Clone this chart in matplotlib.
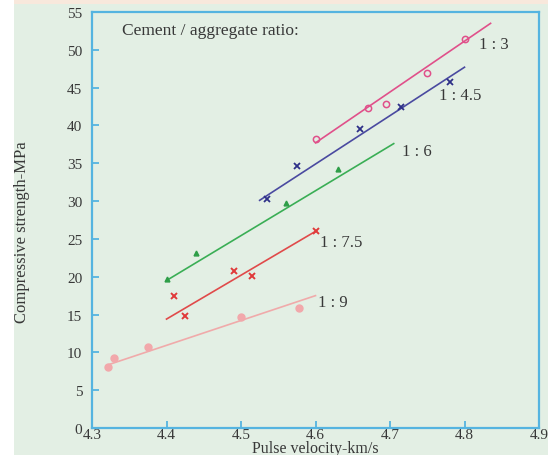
import matplotlib
matplotlib.use("Agg")
import matplotlib.pyplot as plt
from matplotlib.patches import Rectangle

# Data
r13_x = [4.60, 4.67, 4.695, 4.75, 4.80]
r13_y = [38.2, 42.3, 42.8, 47.0, 51.4]
r13_fit_x = [4.60, 4.835]
r13_fit_y = [37.7, 53.5]

r145_x = [4.535, 4.575, 4.66, 4.715, 4.78]
r145_y = [30.3, 34.6, 39.5, 42.4, 45.8]
r145_fit_x = [4.525, 4.80]
r145_fit_y = [30.1, 47.7]

r16_x = [4.40, 4.44, 4.56, 4.63]
r16_y = [19.7, 23.1, 29.7, 34.3]
r16_fit_x = [4.40, 4.705]
r16_fit_y = [19.5, 37.6]

r175_x = [4.41, 4.425, 4.49, 4.515, 4.60]
r175_y = [17.5, 14.8, 20.7, 20.1, 26.1]
r175_fit_x = [4.40, 4.60]
r175_fit_y = [14.4, 26.0]

r19_x = [4.322, 4.33, 4.375, 4.50, 4.578]
r19_y = [8.1, 9.2, 10.7, 14.7, 15.9]
r19_fit_x = [4.32, 4.60]
r19_fit_y = [8.3, 17.5]

labels = ["1 : 3", "1 : 4.5", "1 : 6", "1 : 7.5", "1 : 9"]
label_x = [4.82, 4.766, 4.716, 4.606, 4.604]
label_y = [50.8, 44.0, 36.6, 24.6, 16.7]

xticks = [4.3, 4.4, 4.5, 4.6, 4.7, 4.8, 4.9]
yticks = [0, 5, 10, 15, 20, 25, 30, 35, 40, 45, 50, 55]

bg = "#e3efe4"
frame = "#55b4e0"
tc = "#383838"
serif = ["Liberation Serif", "DejaVu Serif"]
fs = 10.5

fig = plt.figure(figsize=(5.48, 4.56), dpi=100)
fig.patch.set_facecolor("white")
fig.add_artist(Rectangle((14/548, 0), 1 - 14/548, 1 - 5/456, transform=fig.transFigure,
                         facecolor=bg, edgecolor="none", zorder=-10))
fig.add_artist(Rectangle((14/548, 1 - 5/456), 1 - 14/548, 5/456, transform=fig.transFigure,
                         facecolor="#f8e8dc", edgecolor="none", zorder=-10))

ax = fig.add_axes([92/548, 27/456, 447/548, 416/456])
ax.set_facecolor(bg)
ax.set_xlim(4.3, 4.9)
ax.set_ylim(0, 55)
for s in ax.spines.values():
    s.set_color(frame)
    s.set_linewidth(1.6)
ax.set_xticks(xticks)
ax.set_yticks(yticks)
ax.set_xticklabels([f"{v:.1f}" for v in xticks], family=serif, fontsize=fs + 0.5, color=tc)
ax.set_yticklabels([str(v) for v in yticks], family=serif, fontsize=fs + 0.5, color=tc)
ax.tick_params(direction="in", color=frame, width=1.3, length=5)
ax.tick_params(axis="x", pad=0)
ax.tick_params(axis="y", pad=7)

series = [
    (r13_x, r13_y, r13_fit_x, r13_fit_y, "#e0508a", dict(marker="o", ms=4.5, mfc="none", mec="#e0508a", mew=1.1)),
    (r145_x, r145_y, r145_fit_x, r145_fit_y, "#4a4aa0", dict(marker="x", ms=5, mec="#2e3088", mew=1.3)),
    (r16_x, r16_y, r16_fit_x, r16_fit_y, "#3aae55", dict(marker="^", ms=3.5, mfc="#2e9e48", mec="#2e9e48")),
    (r175_x, r175_y, r175_fit_x, r175_fit_y, "#e04a4a", dict(marker="x", ms=5, mec="#e03a3a", mew=1.4)),
    (r19_x, r19_y, r19_fit_x, r19_fit_y, "#f0aaaa", dict(marker="o", ms=5, mfc="#f2a8ab", mec="#f2a8ab")),
]
for xs, ys, fx, fy, c, mk in series:
    ax.plot(fx, fy, color=c, lw=1.2, zorder=2)
    ax.plot(xs, ys, ls="none", zorder=3, **mk)

for t, x, y in zip(labels, label_x, label_y):
    ax.text(x, y, t, family=serif, fontsize=12, color=tc, va="center", ha="left")

ax.text(4.34, 52.6, "Cement / aggregate ratio:", family=serif, fontsize=12.5, color=tc,
        va="center", ha="left")

fig.text(315/548, 1 - 453/456, "Pulse velocity-km/s", family=serif, fontsize=11.5, color=tc,
         va="baseline", ha="center")
fig.text(22/548, 1 - 232/456, "Compressive strength-MPa", family=serif, fontsize=12, color=tc,
         rotation=90, va="center", ha="center")

fig.savefig("out.png", dpi=100, facecolor=fig.get_facecolor())
